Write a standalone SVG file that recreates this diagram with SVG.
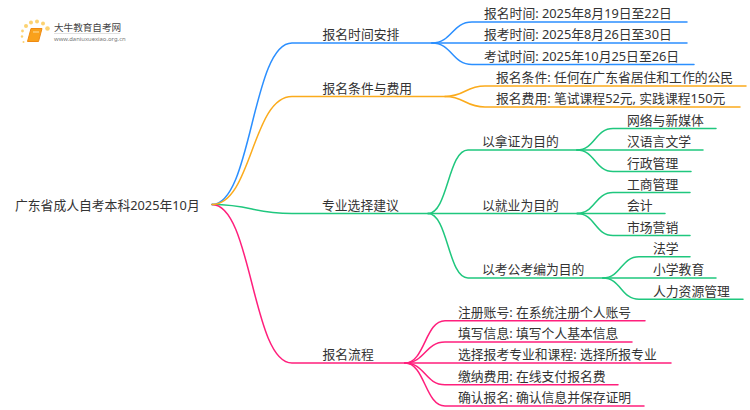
<svg xmlns="http://www.w3.org/2000/svg" width="750" height="410" viewBox="0 0 750 410">
<style>
text{font-family:"Noto Sans","Noto Sans CJK SC",sans-serif;font-size:12.800px;fill:#333}
.c{fill:none;stroke-width:1.500;stroke-linecap:round}
.b{stroke:#2b8fff}.y{stroke:#fbab1c}.g{stroke:#1fc77e}.p{stroke:#ff1f7c}
</style>
<rect width="750" height="410" fill="#fff"/>
<g id="connectors">
<path class="c g" d="M212 204.500C252 204.500 252 213.500 292 213.500L428 213.500"/>
<path class="c p" d="M212 204.500C252 204.500 252 363 292 363L405 363"/>
<path class="c b" d="M212 204.500C252 204.500 252 43 292 43L432 43"/>
<path class="c y" d="M212 204.500C252 204.500 252 96.500 292 96.500L445 96.500"/>
<path class="c b" d="M432 43C452 43 452 22 472 22L687 22"/>
<path class="c b" d="M432 43L687 43"/>
<path class="c b" d="M432 43C452 43 452 64.500 472 64.500L694 64.500"/>
<path class="c y" d="M445 96.500C465 96.500 465 86 485 86L746 86"/>
<path class="c y" d="M445 96.500C465 96.500 465 107 485 107L740 107"/>
<path class="c g" d="M428 213.500C448 213.500 448 150 468 150L577 150"/>
<path class="c g" d="M428 213.500L580 213.500"/>
<path class="c g" d="M428 213.500C448 213.500 448 278 468 278L603 278"/>
<path class="c g" d="M577 150C595 150 595 128.500 613 128.500L716 128.500"/>
<path class="c g" d="M577 150L703 150"/>
<path class="c g" d="M577 150C595 150 595 171.500 613 171.500L691 171.500"/>
<path class="c g" d="M577 213.500C595 213.500 595 192.500 613 192.500L690 192.500"/>
<path class="c g" d="M577 213.500L665 213.500"/>
<path class="c g" d="M577 213.500C595 213.500 595 235.500 613 235.500L690 235.500"/>
<path class="c g" d="M603 278C621 278 621 256.700 639 256.700L690 256.700"/>
<path class="c g" d="M603 278L716 278"/>
<path class="c g" d="M603 278C621 278 621 299.300 639 299.300L743 299.300"/>
<path class="c p" d="M405 363C425 363 425 320.700 445 320.700L645 320.700"/>
<path class="c p" d="M405 363C425 363 425 342 445 342L632 342"/>
<path class="c p" d="M405 363L671 363"/>
<path class="c p" d="M405 363C425 363 425 384.700 445 384.700L618 384.700"/>
<path class="c p" d="M405 363C425 363 425 406 445 406L644 406"/>
</g>
<g id="logo">
<g fill="#fcd271"><circle cx="26" cy="26" r="2"/><circle cx="31" cy="22.500" r="2"/><circle cx="37" cy="21.500" r="2"/><circle cx="43" cy="23.500" r="2"/><circle cx="47.500" cy="28.500" r="2.300"/><circle cx="22.500" cy="31" r="1.400"/><circle cx="22" cy="36.500" r="1.200"/><circle cx="23.500" cy="42" r="1"/></g>
<path d="M31 28.500H42L38.500 41.500H27.500Z" fill="#f9a11b" stroke="#ef8a12" stroke-width="1"/>
<path d="M33 32H39" stroke="#fde0a0" stroke-width="1"/>
<text x="54" y="31" style="font-size:9.600px;fill:#444">大牛教育自考网</text>
<path d="M54 33.500H120" stroke="#ccc" stroke-width="0.600"/>
<text x="54" y="41" style="font-size:5.900px;fill:#777">www.daniuxuexiao.org.cn</text>
</g>
<g id="root"><text x="15" y="209.500">广东省成人自考本科2025年10月</text></g>
<g id="n1"><text x="322.500" y="39">报名时间安排</text></g>
<g id="n1a"><text x="484" y="18">报名时间: 2025年8月19日至22日</text></g>
<g id="n1b"><text x="484" y="39">报考时间: 2025年8月26日至30日</text></g>
<g id="n1c"><text x="484" y="60.500">考试时间: 2025年10月25日至26日</text></g>
<g id="n2"><text x="322.500" y="92.500">报名条件与费用</text></g>
<g id="n2a"><text x="496" y="82">报名条件: 任何在广东省居住和工作的公民</text></g>
<g id="n2b"><text x="496" y="103">报名费用: 笔试课程52元, 实践课程150元</text></g>
<g id="n3"><text x="322" y="209.500">专业选择建议</text></g>
<g id="n3a"><text x="482" y="146">以拿证为目的</text></g>
<g id="n3a1"><text x="627" y="124.500">网络与新媒体</text></g>
<g id="n3a2"><text x="627" y="146">汉语言文学</text></g>
<g id="n3a3"><text x="627" y="167.500">行政管理</text></g>
<g id="n3b"><text x="482" y="209.500">以就业为目的</text></g>
<g id="n3b1"><text x="627" y="188.500">工商管理</text></g>
<g id="n3b2"><text x="627" y="209.500">会计</text></g>
<g id="n3b3"><text x="627" y="231.500">市场营销</text></g>
<g id="n3c"><text x="482" y="274">以考公考编为目的</text></g>
<g id="n3c1"><text x="653" y="252.500">法学</text></g>
<g id="n3c2"><text x="653" y="274">小学教育</text></g>
<g id="n3c3"><text x="653" y="295.500">人力资源管理</text></g>
<g id="n4"><text x="322.500" y="359">报名流程</text></g>
<g id="n4a"><text x="458" y="316.500">注册账号: 在系统注册个人账号</text></g>
<g id="n4b"><text x="458" y="338">填写信息: 填写个人基本信息</text></g>
<g id="n4c"><text x="458" y="359">选择报考专业和课程: 选择所报专业</text></g>
<g id="n4d"><text x="458" y="380.500">缴纳费用: 在线支付报名费</text></g>
<g id="n4e"><text x="458" y="402">确认报名: 确认信息并保存证明</text></g>
</svg>
